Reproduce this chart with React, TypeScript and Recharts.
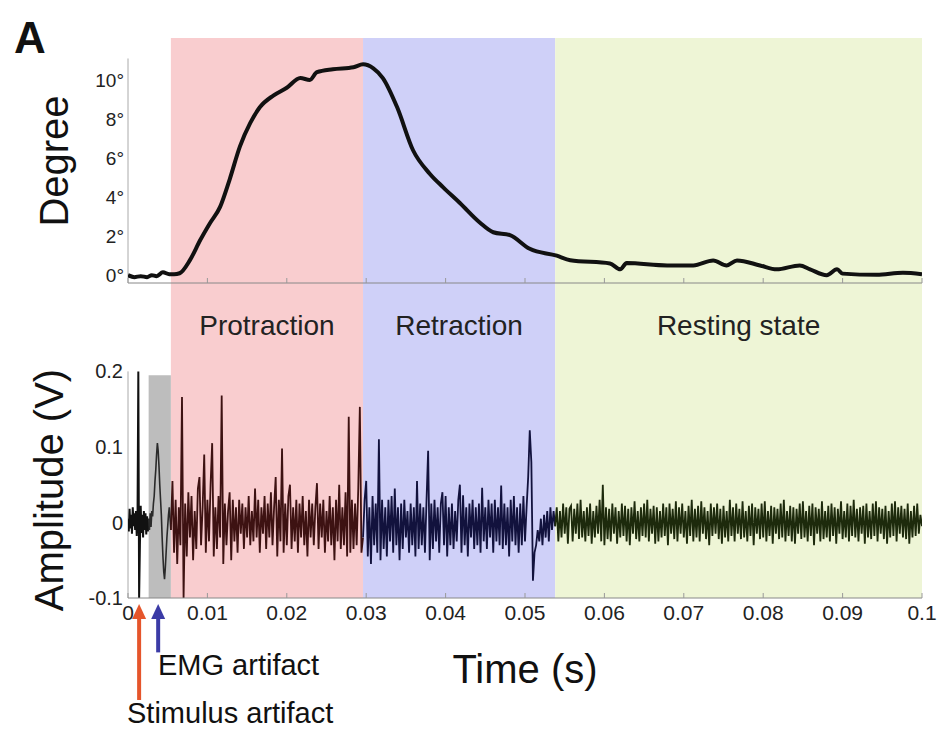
import React from "react";
import { LineChart, Line, XAxis, YAxis, ReferenceArea, ReferenceLine } from "recharts";

const FONT = "'Liberation Sans', Arial, Helvetica, sans-serif";

// axis ticks
const timeTicks = [0, 0.01, 0.02, 0.03, 0.04, 0.05, 0.06, 0.07, 0.08, 0.09, 0.1];
const degreeTicks = [0, 2, 4, 6, 8, 10];
const ampTicks = [-0.1, 0, 0.1, 0.2];

// movement phases (s)
const phaseNames = ["Protraction", "Retraction", "Resting state"];
const phaseStart = [0.0054, 0.0296, 0.0538];
const phaseEnd = [0.0296, 0.0538, 0.1];
const emgArtifactWindow = [0.0026, 0.0054];
const stimulusTime = 0.0014;
const emgArtifactTime = 0.0038;

// whisker angle (degrees)
const degreeTime = [
	0, 0.0008, 0.0016, 0.0024, 0.003, 0.0036, 0.0044, 0.0052, 0.0058, 0.0065,
	0.0078, 0.0091, 0.0103, 0.0116, 0.0128, 0.0141, 0.0154, 0.0166, 0.0183, 0.02,
	0.0217, 0.0229, 0.0238, 0.0258, 0.0284, 0.0296, 0.0309, 0.0321, 0.0339, 0.0359,
	0.038, 0.0397, 0.0418, 0.0443, 0.046, 0.0481, 0.0506, 0.054, 0.0557, 0.0607,
	0.062, 0.0628, 0.0679, 0.0712, 0.0737, 0.0754, 0.0767, 0.0796, 0.0817, 0.0846,
	0.0859, 0.088, 0.0893, 0.09, 0.0943, 0.0976, 0.1,
];
const degreeValue = [
	0, -0.1, -0.05, -0.1, 0, -0.05, 0.15, 0.05, 0.05, 0.1,
	0.77, 1.8, 2.65, 3.5, 4.9, 6.6, 7.8, 8.6, 9.2, 9.6,
	10.1, 10.0, 10.4, 10.55, 10.65, 10.8, 10.6, 10.1, 8.6, 6.4,
	5.2, 4.5, 3.7, 2.7, 2.2, 2.05, 1.35, 1.0, 0.77, 0.6,
	0.3, 0.62, 0.5, 0.5, 0.75, 0.5, 0.75, 0.5, 0.3, 0.5,
	0.3, 0.0, 0.3, 0.08, 0.02, 0.12, 0.05,
];

// EMG, in mV, sampled every `step` seconds from `start`
const preStart = 0;
const preStep = 0.0001;
const preEmg = [5, -12, 18, -8, 10, -15, 20, -5, 12, -10, 15, -18, 8, 200, -100, -30, 22, -14, 10, -20, 15, -10, 12, -16, 8, -12, 5];

const artStart = 0.0026;
const artStep = 0.0001;
const artEmg = [5, -10, 12, -6, 15, 8, 25, 35, 55, 70, 90, 105, 95, 75, 50, 30, 10, -20, -45, -65, -75, -60, -40, -20, -5, 10, 20, 5, -10];

const proStart = 0.0054;
const proStep = 0.0002;
const proEmg = [
	-10, 55, -40, 30, -55, 20, -30, 166, -100, 25,
	-45, 40, -20, 35, -50, 15, -35, 45, 60, -30,
	20, 90, -40, 30, -25, 50, 105, -45, 20, -35,
	35, -20, 168, -55, 25, -30, 15, 40, -50, 30,
	-25, 20, -40, 30, -15, 25, -35, 20, -20, 35,
	-30, 15, -25, 45, -20, 30, -40, 20, -15, 35,
	-35, 25, -20, 40, -30, 20, 60, -45, 30, -25,
	98, -40, 25, -30, 35, 50, -35, 20, -25, 30,
	-40, 25, -20, 35, -30, 15, -45, 30, -20, 25,
	-30, 20, 52, -35, 25, -20, 30, -40, 15, -25,
	35, -30, 20, -50, 30, -25, 50, -35, 20, -30,
	40, -45, 140, -40, 30, -35, 25, -30, 45, 153,
	-40, -20,
];

const retStart = 0.0296;
const retStep = 0.0002;
const retEmg = [
	-20, 30, 55, -45, 20, -55, 35, -30, 25, -40,
	110, -50, 30, -35, 20, -45, 30, -25, 35, -40,
	45, -30, 20, -50, 25, -35, 30, -20, 15, -40,
	25, -30, 20, -45, 55, -35, 25, -30, 20, -40,
	30, 95, -50, 25, -35, 30, -25, 20, -40, 25,
	40, -30, 35, -45, 20, -30, 25, -35, 15, -25,
	30, 50, -40, 36, -30, 20, -45, 25, -20, 30,
	-35, 20, -30, 25, -40, 46, -25, 20, -35, 30,
	-20, 25, -40, 30, -25, 20, -30, 49, -35, 25,
	-30, 20, -45, 30, -25, 35, -30, 20, -40, 25,
	-30, 35, -25, 20, 60, 122, 80, -77, -40, -30,
	-10, -25, 5, -30, 10, -20, 15, -25, 20, -10,
	15, -5,
];

const restStart = 0.0538;
const restStep = 0.0002;
const restEmg = [
	-5, 20, -25, 15, -20, 25, -15, 20, -28, 18,
	22, -25, 18, -15, 25, -22, 30, -20, 15, -25,
	20, -18, 25, -28, 15, -20, 22, -15, 30, -25,
	50, -30, 20, -22, 18, -25, 25, -15, 20, -28,
	15, -20, 25, -18, 22, -25, 18, -30, 20, -15,
	28, -22, 15, -25, 20, -18, 25, -20, 30, -25,
	18, -15, 22, -28, 20, -25, 15, -20, 25, -18,
	20, -30, 25, -15, 18, -22, 28, -25, 20, -15,
	25, -20, 15, -28, 22, -18, 30, -25, 18, -20,
	22, -25, 28, -15, 20, -22, 15, -30, 25, -18,
	20, -15, 25, -22, 18, -28, 22, -20, 15, -25,
	30, -18, 20, -25, 25, -15, 18, -22, 28, -20,
	15, -25, 22, -18, 25, -30, 20, -15, 18, -22,
	25, -20, 28, -25, 15, -18, 22, -28, 20, -15,
	18, -22, 25, -20, 30, -25, 15, -18, 22, -25,
	20, -28, 18, -15, 25, -22, 28, -20, 15, -25,
	22, -18, 25, -30, 20, -15, 18, -25, 28, -22,
	15, -20, 22, -25, 25, -18, 20, -28, 18, -15,
	28, -22, 15, -20, 25, -25, 22, -18, 30, -20,
	18, -25, 20, -15, 22, -28, 25, -20, 15, -22,
	25, -18, 28, -25, 20, -15, 18, -22, 22, -28,
	15, -20, 25, -18, 28, -25, 20, -15, 22, -20,
	18, -22, 25, -28, 15, -20, 22, -18, 25, -15,
	10, -5,
];

const PHASE_FILL = ["#f9cdcf", "#cfd0f8", "#eef5d6"];
const PHASE_TRACE = ["#3d1212", "#12123d", "#1d2a0c"];

const toSeries = (start: number, step: number, mv: number[]) =>
	mv.map((v, i) => ({ t: +(start + i * step).toFixed(5), v: v / 1000 }));

const degreeData = degreeTime.map((t, i) => ({ t, v: degreeValue[i] }));
const preData = toSeries(preStart, preStep, preEmg);
const artData = toSeries(artStart, artStep, artEmg);
const emgData = [
	toSeries(proStart, proStep, proEmg),
	toSeries(retStart, retStep, retEmg),
	toSeries(restStart, restStep, restEmg),
];

function UpTick({ x, y }: any) {
	return <line x1={x} x2={x} y1={y} y2={y - 5} stroke="#999" strokeWidth={1} />;
}

function TimeTick({ x, y, payload }: any) {
	return (
		<g>
			<line x1={x} x2={x} y1={y} y2={y - 5} stroke="#999" strokeWidth={1} />
			<text x={x} y={y + 22} textAnchor="middle" fontSize={21} fill="#222">
				{payload.value === 0 ? "0" : String(payload.value)}
			</text>
		</g>
	);
}

const arrow = (color: string) => (props: any) => {
	const { x1, y1, x2, y2 } = props;
	return (
		<g>
			<line x1={x1} y1={y1} x2={x2} y2={y2 + 12} stroke={color} strokeWidth={4} />
			<polygon points={`${x2},${y2} ${x2 - 7},${y2 + 15} ${x2 + 7},${y2 + 15}`} fill={color} />
		</g>
	);
};

const abs: React.CSSProperties = { position: "absolute", left: 0, top: 0 };

export default function App() {
	return (
		<div style={{ position: "absolute", left: 0, top: 0, width: 942, height: 730, background: "#fff", fontFamily: FONT }}>
			{/* bottom panel: EMG */}
			<div style={abs}>
				<LineChart width={942} height={730} margin={{ top: 283, right: 20, bottom: 0, left: 68 }}>
					<XAxis type="number" dataKey="t" domain={[0, 0.1]} ticks={timeTicks} interval={0} height={132}
						tickSize={0} tickMargin={0} tickLine={false} axisLine={{ stroke: "#888" }} tick={<TimeTick />} allowDataOverflow />
					<YAxis type="number" domain={[-0.1, 0.317]} ticks={ampTicks} interval={0} width={60} axisLine={false}
						tickLine={false} tickSize={0} tickMargin={5} tick={{ fontSize: 20, fill: "#222" }}
						tickFormatter={(v: number) => String(v)} allowDataOverflow />
					{phaseNames.map((name, i) => (
						<ReferenceArea key={name} x1={phaseStart[i]} x2={phaseEnd[i]} fill={PHASE_FILL[i]} fillOpacity={1}
							stroke="none" ifOverflow="visible"
							label={{ value: name, position: "insideTop", offset: 32, fontSize: 28, fill: "#222" }} />
					))}
					<ReferenceArea x1={emgArtifactWindow[0]} x2={emgArtifactWindow[1]} y1={-0.1} y2={0.195}
						fill="#bdbdbd" fillOpacity={1} stroke="none" />
					<ReferenceLine segment={[{ x: 0, y: -0.1 }, { x: 0, y: 0.2 }]} stroke="#aaa" />
					<Line data={preData} dataKey="v" stroke="#111" strokeWidth={2} dot={false} isAnimationActive={false} />
					<Line data={artData} dataKey="v" stroke="#2a2a2a" strokeWidth={1.6} dot={false} isAnimationActive={false} />
					{emgData.map((d, i) => (
						<Line key={i} data={d} dataKey="v" stroke={PHASE_TRACE[i]} strokeWidth={1.8} dot={false} isAnimationActive={false} />
					))}
					<ReferenceLine segment={[{ x: stimulusTime, y: -0.235 }, { x: stimulusTime, y: -0.108 }]}
						ifOverflow="visible" shape={arrow("#e5552b")} />
					<ReferenceLine segment={[{ x: emgArtifactTime, y: -0.172 }, { x: emgArtifactTime, y: -0.108 }]}
						ifOverflow="visible" shape={arrow("#3b3ba6")} />
				</LineChart>
			</div>

			{/* top panel: angle */}
			<div style={abs}>
				<LineChart width={942} height={300} margin={{ top: 38, right: 20, bottom: 0, left: 68 }}>
					<XAxis type="number" dataKey="t" domain={[0, 0.1]} ticks={timeTicks} interval={0} height={17}
						tickSize={0} tickMargin={0} tickLine={false} axisLine={{ stroke: "#888" }} tick={<UpTick />} allowDataOverflow />
					<YAxis type="number" domain={[-0.4, 12.15]} ticks={degreeTicks} interval={0} width={60} axisLine={false}
						tickLine={false} tickSize={0} tickMargin={4} tick={{ fontSize: 19, fill: "#222" }}
						tickFormatter={(v: number) => `${v}°`} allowDataOverflow />
					{phaseNames.map((name, i) => (
						<ReferenceArea key={name} x1={phaseStart[i]} x2={phaseEnd[i]} fill={PHASE_FILL[i]} fillOpacity={1} stroke="none" />
					))}
					<ReferenceLine segment={[{ x: 0, y: -0.4 }, { x: 0, y: 11.1 }]} stroke="#aaa" />
					<Line data={degreeData} dataKey="v" type="monotone" stroke="#111" strokeWidth={4} dot={false} isAnimationActive={false} />
				</LineChart>
			</div>

			<svg width={942} height={730} style={{ ...abs, pointerEvents: "none" }}>
				<text x={14} y={53} fontSize={44} fontWeight="bold" fill="#111">A</text>
				<text x={68} y={161} fontSize={40} fill="#111" textAnchor="middle" transform="rotate(-90 68 161)">Degree</text>
				<text x={63} y={490} fontSize={40} fill="#111" textAnchor="middle" transform="rotate(-90 63 490)">Amplitude (V)</text>
				<text x={525} y={683} fontSize={40} fill="#111" textAnchor="middle">Time (s)</text>
				<text x={158} y={675} fontSize={29} fill="#111">EMG artifact</text>
				<text x={127} y={723} fontSize={29} fill="#111">Stimulus artifact</text>
			</svg>
		</div>
	);
}
